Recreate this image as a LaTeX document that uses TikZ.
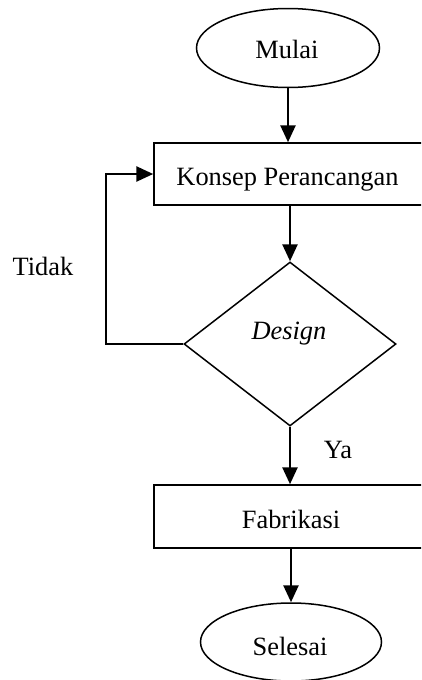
\documentclass[tikz,border=0pt]{standalone}
\usepackage{fontspec}
\setmainfont{Liberation Serif}
\usetikzlibrary{shapes.geometric,arrows.meta}
\tikzset{
  outline/.style={draw=black,line width=1.5pt},
  term/.style={outline,ellipse,inner sep=0pt},
  procbox/.style={outline,rectangle,inner sep=0pt,minimum width=276pt},
  decide/.style={outline,diamond,inner sep=0pt,aspect=1.29},
  lbl/.style={anchor=base,inner sep=0pt,font=\fontsize{26.4pt}{30pt}\selectfont},
  arr/.style={line width=2.6pt,-{Triangle[length=17pt,width=15pt]}},
  loopline/.style={line width=2.6pt}
}
\begin{document}
\begin{tikzpicture}[x=1pt,y=-1pt]
\useasboundingbox (0,0) rectangle (421,680);
\clip (0,0) rectangle (421,680);
% shapes
\node[term,minimum width=183pt,minimum height=79pt] (mulai) at (288,48) {};
\node[procbox,minimum height=62pt] (konsep) at (292,174) {};
\node[decide,minimum width=212pt,minimum height=164pt] (design) at (290,344) {};
\node[procbox,minimum height=63pt] (fab) at (292,516.5) {};
\node[term,minimum width=181pt,minimum height=78pt] (selesai) at (291,642) {};
% texts
\node[lbl] (tMulai) at (287,58) {Mulai};
\node[lbl] (tKonsep) at (287.5,185) {Konsep Perancangan};
\node[lbl] (tDesign) at (289,339) {\itshape Design};
\node[lbl] (tTidak) at (43,275) {Tidak};
\node[lbl] (tYa) at (338,458) {Ya};
\node[lbl] (tFab) at (291,528) {Fabrikasi};
\node[lbl] (tSelesai) at (290,655) {Selesai};
% connectors
\coordinate (loopc) at (106,344);
\draw[arr] (mulai.south) -- (mulai.south |- konsep.north);
\draw[arr] (design.north |- konsep.south) -- (design.north);
\draw[arr] (design.south) -- (design.south |- fab.north);
\draw[arr] (selesai.north |- fab.south) -- (selesai.north);
\draw[arr] (design.west) -- (loopc) |- (konsep.west);
\end{tikzpicture}
\end{document}
